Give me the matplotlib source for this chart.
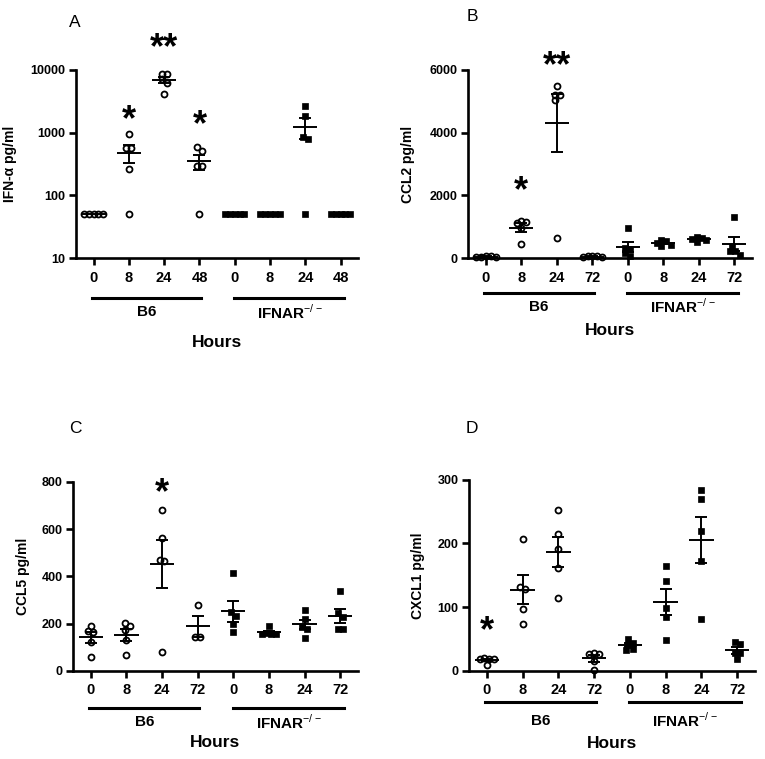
import numpy as np
import matplotlib.pyplot as plt

plt.rcParams['font.family'] = ['Liberation Sans', 'DejaVu Sans']
plt.rcParams['mathtext.fontset'] = 'custom'
plt.rcParams['mathtext.rm'] = 'Liberation Sans'

# hours (tick labels)
hours_a = ['0', '8', '24', '48', '0', '8', '24', '48']
hours = ['0', '8', '24', '72', '0', '8', '24', '72']

# A - IFN-alpha (pg/ml), one list per time point
ifna_b6 = [[50, 50, 50, 50, 50], [953, 564, 564, 261, 50],
           [8630, 8630, 7100, 6280, 4140], [516, 585, 294, 294, 50]]
ifna_ko = [[50, 50, 50, 50, 50], [50, 50, 50, 50, 50],
           [2700, 1866, 843, 784, 50], [50, 50, 50, 50, 50]]

# B - CCL2
ccl2_b6 = [[80, 60, 40, 30, 20], [1170, 1160, 1120, 950, 450],
           [5500, 5200, 5200, 5050, 630], [80, 60, 50, 30, 20]]
ccl2_ko = [[970, 320, 290, 160, 60], [560, 530, 480, 430, 400],
           [680, 650, 620, 560, 500], [1300, 360, 220, 220, 100]]

# C - CCL5
ccl5_b6 = [[192, 168, 164, 124, 61], [202, 190, 173, 131, 68],
           [681, 562, 470, 467, 79], [279, 143, 143]]
ccl5_ko = [[413, 251, 234, 198, 164], [192, 160, 158, 155, 155],
           [258, 220, 188, 178, 141], [339, 244, 230, 176, 176]]

# D - CXCL1
cxcl1_b6 = [[20, 19, 19, 18, 10], [207, 131, 129, 97, 73],
            [253, 215, 191, 161, 114], [28, 27, 26, 15, 2]]
cxcl1_ko = [[50, 44, 40, 34, 33], [164, 141, 98, 85, 49],
            [284, 269, 220, 173, 81], [45, 43, 28, 28, 18]]


def swarm_x(ax, xc, ys, d=4.8):
    # simple beeswarm: offsets in pixels, then back to data units
    py = ax.transData.transform(np.column_stack([np.full(len(ys), xc), ys]))[:, 1]
    order = np.argsort(-py)
    offs = np.zeros(len(ys))
    placed = []
    cands = [0]
    for k in range(1, 12):
        cands += [k * 0.5, -k * 0.5]
    for i in order:
        for c in cands:
            ox = c * d
            if all((ox - offs[j]) ** 2 + (py[i] - py[j]) ** 2 >= (d * 0.98) ** 2 for j in placed):
                offs[i] = ox
                break
        placed.append(i)
    # recentre rows of touching points
    cluster = [order[0]]
    for a, b in zip(order[:-1], order[1:]):
        if py[a] - py[b] < d:
            cluster.append(b)
        else:
            offs[cluster] -= offs[cluster].mean()
            cluster = [b]
    offs[cluster] -= offs[cluster].mean()
    px_per_unit = ax.transData.transform((1, 0))[0] - ax.transData.transform((0, 0))[0]
    return xc + offs / px_per_unit


def panel(ax, b6, ko, labels, ylabel, log=False, ylim=None, yticks=None):
    if log:
        ax.set_yscale('log')
    ax.set_xlim(-0.5, 7.5)
    ax.set_ylim(*ylim)
    groups = [(g, 'o') for g in b6] + [(g, 's') for g in ko]
    for i, (vals, mk) in enumerate(groups):
        vals = np.array(vals, dtype=float)
        xs = swarm_x(ax, i, vals)
        if mk == 'o':
            ax.plot(xs, vals, 'o', ms=4.3, mfc='none', mec='black', mew=1.3,
                    ls='none', clip_on=False, zorder=3)
        else:
            ax.plot(xs, vals, 's', ms=3.8, mfc='black', mec='black', mew=0.5,
                    ls='none', clip_on=False, zorder=3)
        m = vals.mean()
        sem = vals.std(ddof=1) / np.sqrt(len(vals))
        ax.hlines(m, i - 0.34, i + 0.34, color='black', lw=1.4, zorder=4)
        if sem > 0:
            ax.errorbar(i, m, yerr=sem, fmt='none', ecolor='black', elinewidth=1.4,
                        capsize=4.3, capthick=1.4, zorder=4)
    ax.set_xticks(range(8))
    ax.set_xticklabels(labels, fontsize=10.5, fontweight='bold')
    ax.set_yticks(yticks)
    ax.set_yticklabels([str(t) for t in yticks], fontsize=9, fontweight='bold')
    ax.minorticks_off()
    ax.set_ylabel(ylabel, fontsize=10, fontweight='bold')
    for s in ['top', 'right']:
        ax.spines[s].set_visible(False)
    for s in ['left', 'bottom']:
        ax.spines[s].set_linewidth(1.9)
    ax.tick_params(axis='both', width=1.9, length=5, direction='out', pad=2.5)
    ax.tick_params(axis='x', pad=4)


fig = plt.figure(figsize=(7.65, 7.59), dpi=100)

specs = [
    ('A', [0.0993, 0.660, 0.369, 0.248], ifna_b6, ifna_ko, hours_a, 'IFN-α pg/ml', True,
     (10, 10000), [10, 100, 1000, 10000], -0.21, (-0.213, -0.287, -0.447),
     [(1, 2140, '*'), (2, 30000, '**'), (3, 1780, '*')], (0.098, 0.971)),
    ('B', [0.612, 0.660, 0.371, 0.248], ccl2_b6, ccl2_ko, hours, 'CCL2 pg/ml', False,
     (0, 6000), [0, 2000, 4000, 6000], -0.187, (-0.186, -0.258, -0.383),
     [(1, 2390, '*'), (2, 6380, '**')], (0.617, 0.978)),
    ('C', [0.0954, 0.116, 0.3725, 0.249], ccl5_b6, ccl5_ko, hours, 'CCL5 pg/ml', False,
     (0, 800), [0, 200, 400, 600, 800], -0.151, (-0.196, -0.27, -0.381),
     [(2, 787, '*')], (0.098, 0.436)),
    ('D', [0.613, 0.116, 0.374, 0.252], cxcl1_b6, cxcl1_ko, hours, 'CXCL1 pg/ml', False,
     (0, 300), [0, 100, 200, 300], -0.154, (-0.162, -0.26, -0.377),
     [(0, 75, '*')], (0.617, 0.436)),
]

for (letter, rect, b6, ko, labels, ylabel, log, ylim, yticks, ylx, ypos,
     stars, lpos) in specs:
    ax = fig.add_axes(rect)
    panel(ax, b6, ko, labels, ylabel, log=log, ylim=ylim, yticks=yticks)
    ax.yaxis.set_label_coords(ylx, 0.5)
    tr = ax.get_xaxis_transform()
    line_y, lab_y, hours_y = ypos
    ax.plot([-0.05, 3.05], [line_y, line_y], color='black', lw=2.2,
            transform=tr, clip_on=False)
    ax.plot([3.98, 7.1], [line_y, line_y], color='black', lw=2.2,
            transform=tr, clip_on=False)
    ax.text(1.5, lab_y, 'B6', transform=tr, ha='center', va='center',
            fontsize=11, fontweight='bold')
    ax.text(5.55, lab_y, r'IFNAR$^{-/-}$', transform=tr, ha='center', va='center',
            fontsize=11, fontweight='bold')
    ax.text(3.5, hours_y, 'Hours', transform=tr, ha='center', va='center',
            fontsize=12.5, fontweight='bold')
    for sx, sy, st in stars:
        ax.annotate(st, (sx, sy), xytext=(0, -13), textcoords='offset points',
                    ha='center', va='baseline', fontsize=26, fontweight='bold',
                    annotation_clip=False)
    fig.text(lpos[0], lpos[1], letter, ha='center', va='center', fontsize=12.5)

fig.savefig('out.png', dpi=100)
